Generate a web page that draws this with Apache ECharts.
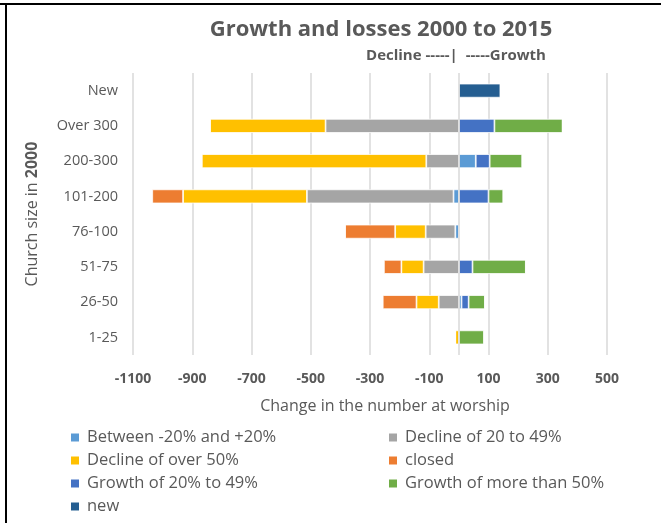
<!DOCTYPE html>
<html>
<head>
<meta charset="utf-8">
<title>Growth and losses 2000 to 2015</title>
<script src="https://cdn.jsdelivr.net/npm/echarts@6/dist/echarts.min.js"></script>
<style>
   html, body { margin: 0; padding: 0; background: #fff; }
   #chart { width: 661px; height: 523px; }
</style>
</head>
<body>
<div id="chart"></div>
<script>
// church size bands, bottom to top
const sizes = ["1-25", "26-50", "51-75", "76-100", "101-200", "200-300", "Over 300", "New"];
const xTicks = { min: -1100, max: 500, step: 200 };

const between = [0, 9, 0, -12, -18, 57, 0, 0];
const decline20to49 = [0, -68, -119, -100, -495, -110, -450, 0];
const declineOver50 = [-12, -75, -75, -103, -418, -758, -390, 0];
const closed = [0, -114, -59, -170, -104, 0, 0, 0];
const growth20to49 = [0, 24, 46, 0, 100, 47, 120, 0];
const growthOver50 = [85, 55, 180, 0, 50, 110, 230, 0];
const newChurches = [0, 0, 0, 0, 0, 0, 0, 140];

const TEXT = "#595959";
const FONT = "Open Sans";

const seriesList = [
   { name: "Between -20% and +20%", data: between, color: "#5B9BD5" },
   { name: "Decline of 20 to 49%", data: decline20to49, color: "#A5A5A5" },
   { name: "Decline of over 50%", data: declineOver50, color: "#FFC000" },
   { name: "closed", data: closed, color: "#ED7D31" },
   { name: "Growth of 20% to 49%", data: growth20to49, color: "#4472C4" },
   { name: "Growth of more than 50%", data: growthOver50, color: "#70AD47" },
   { name: "new", data: newChurches, color: "#255E91" },
];

const legendBase = {
   orient: "vertical",
   top: 429,
   height: 100,
   padding: 0,
   icon: "rect",
   itemWidth: 10,
   itemHeight: 10,
   itemGap: 6,
   selectedMode: false,
   textStyle: { color: TEXT, fontFamily: FONT, fontSize: 16.5, padding: [0, 0, 0, 2] },
};

const chart = echarts.init(document.getElementById("chart"));
const option = {
   animation: false,
   textStyle: { fontFamily: FONT },
   grid: { left: 133, right: 54, top: 73, bottom: 168 },
   legend: [
      Object.assign({}, legendBase, {
         left: 69,
         data: ["Between -20% and +20%", "Decline of over 50%", "Growth of 20% to 49%", "new"],
      }),
      Object.assign({}, legendBase, {
         left: 387,
         data: ["Decline of 20 to 49%", "closed", "Growth of more than 50%"],
      }),
   ],
   xAxis: {
      type: "value",
      min: xTicks.min,
      max: xTicks.max,
      interval: xTicks.step,
      axisLine: { show: false },
      axisTick: { show: false },
      splitLine: { lineStyle: { color: "#d9d9d9", width: 1.5 } },
      axisLabel: {
         color: TEXT, fontFamily: FONT, fontSize: 14, fontWeight: "bold", margin: 17,
         formatter: (v) => String(v),
      },
   },
   yAxis: {
      type: "category",
      data: sizes,
      axisLine: { show: false },
      axisTick: { show: false },
      axisLabel: { color: TEXT, fontFamily: FONT, fontSize: 14.5, margin: 15 },
      name: "{n|Church size in }{b|2000}",
      nameLocation: "middle",
      nameRotate: 90,
      nameGap: 93,
      nameTextStyle: {
         rich: {
            n: { color: TEXT, fontFamily: FONT, fontSize: 16 },
            b: { color: TEXT, fontFamily: FONT, fontSize: 16, fontWeight: "bold" },
         },
      },
   },
   graphic: [
      {
         type: "text", x: 381, y: 30,
         style: {
            text: "Growth and losses 2000 to 2015", fill: TEXT, font: "bold 22px 'Open Sans'",
            textAlign: "center", textVerticalAlign: "middle",
         },
      },
      {
         type: "text", x: 456, y: 56,
         style: {
            text: "Decline -----|  -----Growth", fill: TEXT, font: "bold 15px 'Open Sans'",
            textAlign: "center", textVerticalAlign: "middle",
         },
      },
      {
         type: "text", x: 385, y: 406,
         style: {
            text: "Change in the number at worship", fill: TEXT, font: "16px 'Open Sans'",
            textAlign: "center", textVerticalAlign: "middle",
         },
      },
      // frame lines at top and left like the original crop
      { type: "rect", shape: { x: 0, y: 3, width: 661, height: 2 }, style: { fill: "#000" } },
      { type: "rect", shape: { x: 5, y: 3, width: 2, height: 520 }, style: { fill: "#000" } },
   ],
   series: seriesList.map((s, i) => {
      return {
         type: "bar",
         name: s.name,
         stack: "total",
         data: s.data,
         barWidth: 14,
         itemStyle: { color: s.color, borderColor: "#fff", borderWidth: 0.75 },
         markLine: i == 0 ? {
            silent: true,
            symbol: ["none", "none"],
            label: { show: false },
            lineStyle: { color: "#d9d9d9", width: 1.5, type: "solid" },
            data: [{ xAxis: 0 }],
         } : undefined,
      };
   }),
};
chart.setOption(option);
</script>
</body>
</html>
